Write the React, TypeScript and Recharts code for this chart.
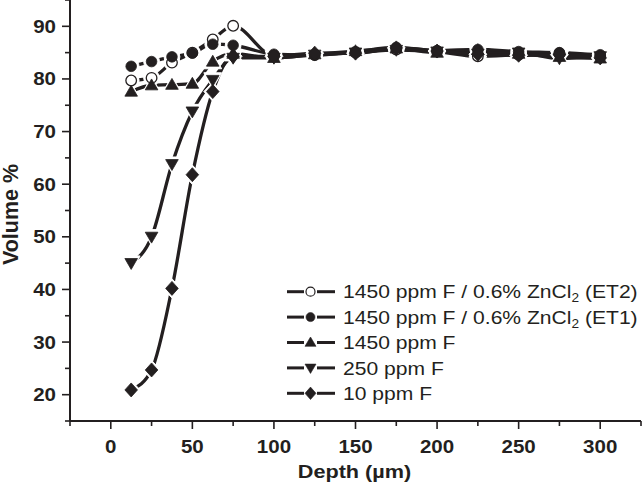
import React from 'react';
import { LineChart, Line, XAxis, YAxis, Legend } from 'recharts';

// ---- data ----
const depth = [12.5, 25, 37.5, 50, 62.5, 75, 100, 125, 150, 175, 200, 225, 250, 275, 300];
const et2 = [79.7, 80.2, 83.1, 85.0, 87.5, 90.1, 84.4, 84.6, 85.0, 85.6, 85.2, 84.3, 84.6, 84.9, 84.3];
const et1 = [82.4, 83.3, 84.2, 84.9, 86.6, 86.4, 84.7, 84.5, 85.2, 86.0, 85.4, 85.6, 85.2, 85.0, 84.6];
const f1450 = [77.6, 78.8, 78.9, 79.1, 83.3, 84.8, 84.0, 84.7, 85.3, 85.8, 85.0, 85.5, 84.8, 84.2, 83.9];
const f250 = [45.0, 50.0, 63.8, 73.8, 79.8, 84.0, 84.0, 84.6, 85.0, 85.5, 85.2, 84.8, 85.0, 83.9, 84.3];
const f10 = [20.9, 24.7, 40.2, 61.8, 77.6, 84.3, 84.3, 84.9, 84.9, 85.9, 85.3, 84.7, 84.5, 84.6, 84.0];

const seriesKeys = ['et2', 'et1', 'f1450', 'f250', 'f10'];
const seriesNames = [
  '1450 ppm F / 0.6% ZnCl2 (ET2)',
  '1450 ppm F / 0.6% ZnCl2 (ET1)',
  '1450 ppm F',
  '250 ppm F',
  '10 ppm F',
];
const seriesShapes = ['openCircle', 'circle', 'triangleUp', 'triangleDown', 'diamond'];

const xTicks = [-25, 0, 25, 50, 75, 100, 125, 150, 175, 200, 225, 250, 275, 300, 325];
const yTicks = [15, 20, 25, 30, 35, 40, 45, 50, 55, 60, 65, 70, 75, 80, 85, 90, 95];

const data = depth.map((d, i) => ({
  depth: d,
  et2: et2[i],
  et1: et1[i],
  f1450: f1450[i],
  f250: f250[i],
  f10: f10[i],
}));

// ---- styling ----
const INK = '#231f20';
const FONT = '"Liberation Sans", Arial, Helvetica, sans-serif';
const SX = 1.14;

function shapeNode(shape: string, cx: number, cy: number, fill: string, stroke: string, sw: number, grow = 0) {
  if (shape === 'openCircle' || shape === 'circle') {
    return <circle cx={cx} cy={cy} r={5.3 + grow} fill={fill} stroke={stroke} strokeWidth={sw} />;
  }
  if (shape === 'triangleUp') {
    const h = 6.3 + grow, w = 6.3 + grow, b = 4.6 + grow;
    return <path d={`M${cx},${cy - h}L${cx + w},${cy + b}L${cx - w},${cy + b}Z`} fill={fill} stroke={stroke} strokeWidth={sw} strokeLinejoin="round" />;
  }
  if (shape === 'triangleDown') {
    const h = 6.3 + grow, w = 6.3 + grow, b = 4.6 + grow;
    return <path d={`M${cx},${cy + h}L${cx + w},${cy - b}L${cx - w},${cy - b}Z`} fill={fill} stroke={stroke} strokeWidth={sw} strokeLinejoin="round" />;
  }
  const w = 6.3 + grow, h = 7 + grow;
  return <path d={`M${cx},${cy - h}L${cx + w},${cy}L${cx},${cy + h}L${cx - w},${cy}Z`} fill={fill} stroke={stroke} strokeWidth={sw} strokeLinejoin="round" />;
}

function Marker({ shape, cx, cy }: { shape: string; cx: number; cy: number }) {
  if (shape === 'openCircle') return shapeNode(shape, cx, cy, '#fff', INK, 1.3);
  return shapeNode(shape, cx, cy, INK, INK, 0.8);
}

function Halo({ shape, cx, cy }: { shape: string; cx: number; cy: number }) {
  return shapeNode(shape, cx, cy, '#fff', '#fff', 1, 2.6);
}

function XTick(props: any) {
  const { x, y, payload } = props;
  const v = payload.value;
  const major = v % 50 === 0;
  return (
    <g>
      <line x1={x} x2={x} y1={y} y2={y + (major ? 8 : 5)} stroke={INK} strokeWidth={1.6} />
      {major && v >= 0 && v <= 300 ? (
        <text transform={`translate(${x},${y + 31.5}) scale(${SX},1)`} textAnchor="middle" fontFamily={FONT} fontWeight="bold" fontSize={18} fill={INK}>
          {v}
        </text>
      ) : null}
    </g>
  );
}

function YTick(props: any) {
  const { x, y, payload } = props;
  const v = payload.value;
  const major = v % 10 === 0;
  return (
    <g>
      <line x1={x} x2={x - (major ? 8 : 5)} y1={y} y2={y} stroke={INK} strokeWidth={1.6} />
      {major ? (
        <text transform={`translate(${x - 14},${y + 6.5}) scale(${SX},1)`} textAnchor="end" fontFamily={FONT} fontWeight="bold" fontSize={18} fill={INK}>
          {v}
        </text>
      ) : null}
    </g>
  );
}

function YTitle(props: any) {
  const vb = props.viewBox || { x: 0, y: 0, width: 70, height: 421 };
  const cx = vb.x + 10.5;
  const cy = vb.y + vb.height / 2 + 4;
  return (
    <text transform={`translate(${cx},${cy}) scale(1.05,1) rotate(-90)`} textAnchor="middle" dominantBaseline="central" fontFamily={FONT} fontWeight="bold" fontSize={21.5} fill={INK}>
      Volume %
    </text>
  );
}

function XTitle(props: any) {
  const vb = props.viewBox || { x: 70, y: 421, width: 571, height: 65 };
  const cx = vb.x + vb.width / 2 - 1;
  const by = vb.y + 57;
  return (
    <text transform={`translate(${cx},${by}) scale(${SX},1)`} textAnchor="middle" fontFamily={FONT} fontWeight="bold" fontSize={19} fill={INK}>
      Depth (µm)
    </text>
  );
}

function LegendLabel({ text }: { text: string }) {
  const idx = text.indexOf('ZnCl2');
  if (idx < 0) return <>{text}</>;
  const before = text.slice(0, idx + 4);
  const after = text.slice(idx + 5);
  return (
    <>
      <tspan>{before}</tspan>
      <tspan dy={4} fontSize={12}>2</tspan>
      <tspan dy={-4}>{after}</tspan>
    </>
  );
}

function renderLegend() {
  const rowH = 25.4;
  return (
    <svg width={362} height={135} style={{ display: 'block', overflow: 'visible' }}>
      {seriesKeys.map((key, k) => {
        const cy = 15.7 + k * rowH;
        return (
          <g key={key}>
            <line x1={7} x2={24} y1={cy} y2={cy} stroke={INK} strokeWidth={3} />
            <line x1={37} x2={55} y1={cy} y2={cy} stroke={INK} strokeWidth={3} />
            {k === 0
              ? <circle cx={30.5} cy={cy} r={4.5} fill="#fff" stroke={INK} strokeWidth={1.2} />
              : shapeNode(seriesShapes[k], 30.5, cy, INK, INK, 0.6, -0.8)}
            <text transform={`translate(63,${cy + 6.7}) scale(${SX},1)`} fontFamily={FONT} fontSize={18.5} fill={INK}>
              <LegendLabel text={seriesNames[k]} />
            </text>
          </g>
        );
      })}
    </svg>
  );
}

export default function App() {
  return (
    <div style={{ position: 'absolute', left: 0, top: 0, width: 642, height: 486, background: '#fff' }}>
      <LineChart width={642} height={486} data={data} margin={{ top: 0, right: 1, left: 0, bottom: 0 }}>
        <XAxis
          dataKey="depth"
          type="number"
          domain={[-25, 325]}
          ticks={xTicks}
          interval={0}
          tickSize={0}
          tickMargin={0}
          tickLine={false}
          tick={<XTick />}
          height={65}
          axisLine={{ stroke: INK, strokeWidth: 2 }}
          allowDataOverflow
          label={{ value: 'Depth (µm)', content: (p: any) => <XTitle {...p} /> }}
        />
        <YAxis
          type="number"
          domain={[15, 95]}
          ticks={yTicks}
          interval={0}
          tickSize={0}
          tickMargin={0}
          tickLine={false}
          tick={<YTick />}
          width={70}
          axisLine={{ stroke: INK, strokeWidth: 2 }}
          allowDataOverflow
          label={{ value: 'Volume %', content: (p: any) => <YTitle {...p} /> }}
        />
        {seriesKeys.map((k) => (
          <Line
            key={`line-${k}`}
            dataKey={k}
            name={seriesNames[seriesKeys.indexOf(k)]}
            type="monotone"
            stroke={INK}
            strokeWidth={3.3}
            dot={false}
            activeDot={false}
            isAnimationActive={false}
          />
        ))}
        {seriesKeys.map((k, si) => (
          <Line
            key={`halo-${k}`}
            dataKey={k}
            type="monotone"
            stroke="none"
            legendType="none"
            activeDot={false}
            isAnimationActive={false}
            dot={(p: any) => <Halo key={`h-${k}-${p.index}`} shape={seriesShapes[si]} cx={p.cx} cy={p.cy} />}
          />
        ))}
        {seriesKeys.map((k, si) => (
          <Line
            key={`mark-${k}`}
            dataKey={k}
            type="monotone"
            stroke="none"
            legendType="none"
            activeDot={false}
            isAnimationActive={false}
            dot={(p: any) => <Marker key={`m-${k}-${p.index}`} shape={seriesShapes[si]} cx={p.cx} cy={p.cy} />}
          />
        ))}
        <Legend
          layout="vertical"
          align="center"
          verticalAlign="middle"
          wrapperStyle={{ position: 'absolute', left: 280, top: 276, width: 362, height: 135 }}
          content={renderLegend}
        />
      </LineChart>
    </div>
  );
}
